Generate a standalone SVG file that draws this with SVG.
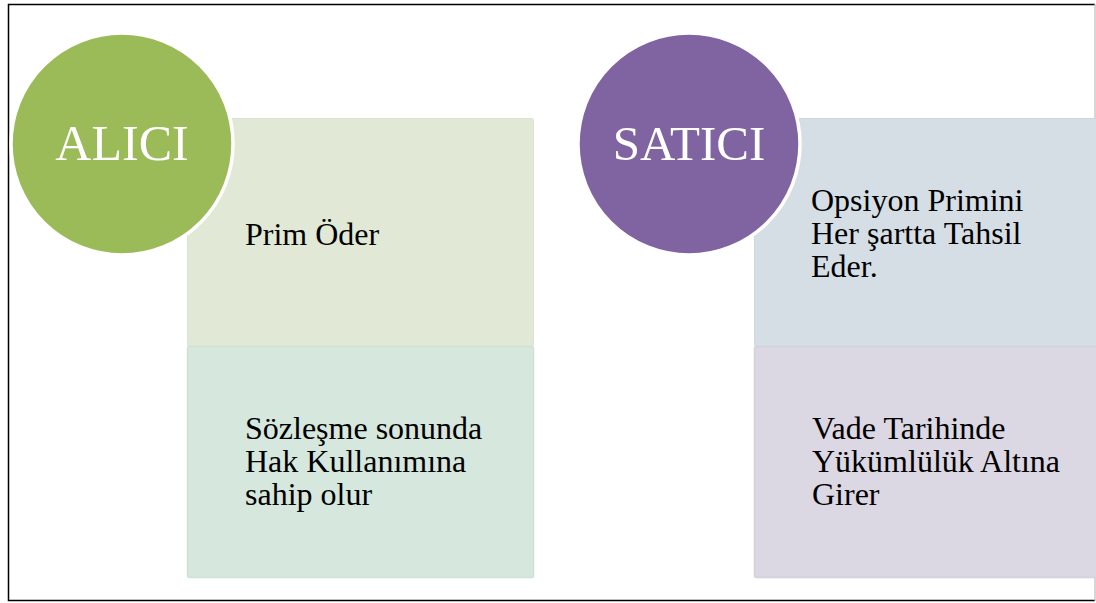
<svg xmlns="http://www.w3.org/2000/svg" width="1096" height="603" viewBox="0 0 1096 603">
  <style>
    .body { font-family: "Liberation Serif", "Times New Roman", serif; font-size: 32px; fill: #000; }
    .head { font-family: "Liberation Serif", "Times New Roman", serif; font-size: 49px; fill: #fff; text-anchor: middle; }
    .ring { stroke: #fff; stroke-width: 3.5; }
  </style>
  <rect width="1096" height="603" fill="#fff"/>
  <!-- slide frame -->
  <path d="M1095 4.5 H8.5 V600.5 H1095" fill="none" stroke="#000" stroke-width="1.5"/>
  <line x1="1095" y1="4" x2="1095" y2="601" stroke="#bbb" stroke-width="1.2"/>

  <g id="connectors"></g>

  <!-- buyer column -->
  <g id="alici-prim">
    <rect x="187.5" y="118.5" width="346" height="228" rx="2" fill="#e1e8d5" stroke="#dbe3cf"/>
    <text class="body" x="245" y="245">Prim Öder</text>
  </g>
  <g id="alici-hak">
    <rect x="187.5" y="346.5" width="346" height="231" rx="2" fill="#d6e7dd" stroke="#cfe0d5" stroke-width="1.5"/>
    <text class="body" x="245" y="439">Sözleşme sonunda</text>
    <text class="body" x="245" y="472">Hak Kullanımına</text>
    <text class="body" x="245" y="505">sahip olur</text>
  </g>
  <g id="alici">
    <circle class="ring" cx="122" cy="144" r="111" fill="#9bbb59"/>
    <text class="head" x="122" y="160" style="font-size:50px">ALICI</text>
  </g>

  <!-- seller column -->
  <g id="satici-prim">
    <rect x="754.5" y="118.5" width="345" height="228" rx="2" fill="#d6dee5" stroke="#d0d8df"/>
    <text class="body" x="811" y="211">Opsiyon Primini</text>
    <text class="body" x="811" y="244">Her şartta Tahsil</text>
    <text class="body" x="811" y="277">Eder.</text>
  </g>
  <g id="satici-yukum">
    <rect x="754.5" y="346.5" width="345" height="231" rx="2" fill="#dbd7e3" stroke="#d4d0de" stroke-width="1.5"/>
    <text class="body" x="812" y="439">Vade Tarihinde</text>
    <text class="body" x="812" y="472">Yükümlülük Altına</text>
    <text class="body" x="812" y="505">Girer</text>
  </g>
  <g id="satici">
    <circle class="ring" cx="689" cy="144" r="111" fill="#8064a2"/>
    <text class="head" x="689" y="160">SATICI</text>
  </g>
</svg>
